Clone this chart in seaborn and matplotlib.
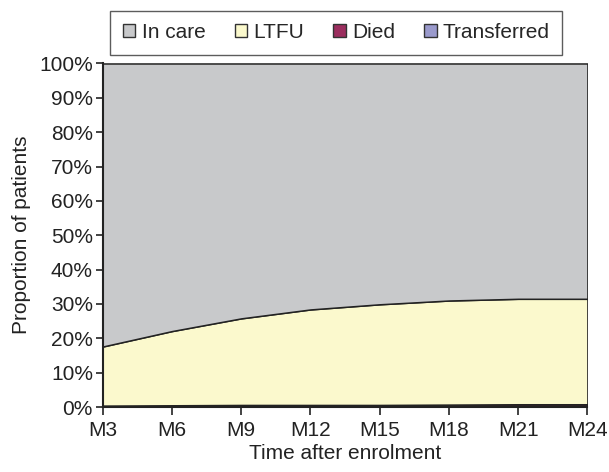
import numpy as np
import matplotlib
matplotlib.use('Agg')
import matplotlib.pyplot as plt
import seaborn as sns
from matplotlib.patches import Patch

# Values (percent of patients)
months      = ["M3", "M6", "M9", "M12", "M15", "M18", "M21", "M24"]
transferred = [0.1, 0.1, 0.1, 0.1, 0.1, 0.2, 0.3, 0.3]
died        = [0.3, 0.4, 0.5, 0.5, 0.5, 0.5, 0.5, 0.5]
ltfu        = [17.2, 21.6, 25.2, 27.8, 29.3, 30.3, 30.7, 30.7]
in_care     = [100 - t - d - l for t, d, l in zip(transferred, died, ltfu)]

labels = ["In care", "LTFU", "Died", "Transferred"]
colors = {"In care": "#c8c9cb", "LTFU": "#fbf9cd", "Died": "#9b2d5e", "Transferred": "#9a9acc"}

sns.set_style("white")
plt.rcParams['font.family'] = ['Liberation Sans', 'DejaVu Sans']

fig = plt.figure(figsize=(6.09, 4.72), dpi=100)
ax = fig.add_axes([0.1686, 0.1377, 0.796, 0.7278])

x = np.arange(len(months))
ax.stackplot(x, transferred, died, ltfu, in_care,
             colors=[colors["Transferred"], colors["Died"], colors["LTFU"], colors["In care"]],
             edgecolor="#222222", linewidth=1.1)

ax.set_xlim(0, len(months) - 1)
ax.set_ylim(0, 100)
ax.set_xticks(x)
ax.set_xticklabels(months)
ax.set_yticks(np.arange(0, 101, 10))
ax.set_yticklabels([f"{v}%" for v in range(0, 101, 10)])
ax.tick_params(axis="both", labelsize=15, width=1.2, color="#222222",
               direction="out", bottom=True, left=True, labelcolor="#222222")
ax.tick_params(axis="x", length=6, pad=4)
ax.tick_params(axis="y", length=5, pad=2)

for side in ["top", "right"]:
    ax.spines[side].set_visible(False)
for side in ["left", "bottom"]:
    ax.spines[side].set_color("#222222")
    ax.spines[side].set_linewidth(1.5)

ax.set_xlabel("Time after enrolment", fontsize=15, color="#222222", labelpad=3)
ax.set_ylabel("Proportion of patients", fontsize=15, color="#222222", labelpad=6)

handles = [Patch(facecolor=colors[l], edgecolor="#333333", linewidth=1.0, label=l) for l in labels]
leg = fig.legend(handles=handles, loc="center", bbox_to_anchor=(0.5525, 0.931), ncol=4,
                 fontsize=15, frameon=True, fancybox=False, handlelength=0.6, handleheight=0.6,
                 handletextpad=0.3, columnspacing=1.4, borderpad=0.6)
leg.get_frame().set_edgecolor("#333333")
leg.get_frame().set_linewidth(1.0)

fig.savefig("out.png", dpi=100)
